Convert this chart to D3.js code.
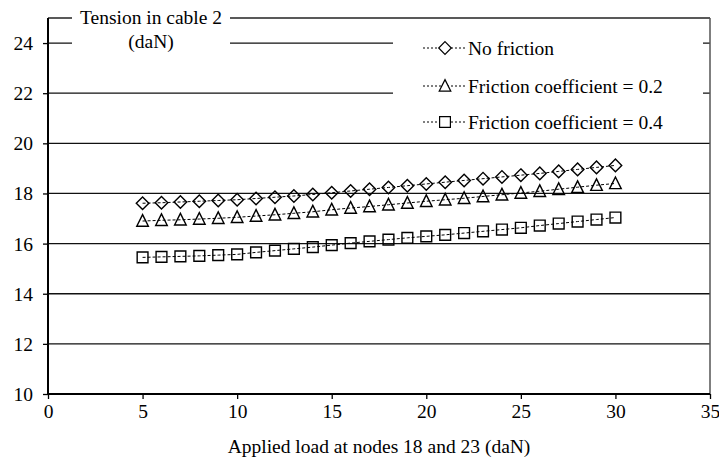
<!DOCTYPE html>
<html>
<head>
<meta charset="utf-8">
<script src="https://cdn.jsdelivr.net/npm/d3@7/dist/d3.min.js"></script>
<style>
  html, body { margin: 0; padding: 0; background: #fff; }
  svg { display: block; }
</style>
</head>
<body>
<svg id="chart" width="719" height="465"></svg>
<script>
// Applied load (daN)
const loads = [5, 6, 7, 8, 9, 10, 11, 12, 13, 14, 15, 16, 17, 18, 19, 20, 21, 22, 23, 24, 25, 26, 27, 28, 29, 30];

// Tension in cable 2 (daN) for each friction case
const noFriction = [17.61, 17.63, 17.66, 17.69, 17.72, 17.75, 17.80, 17.85, 17.90, 17.96, 18.03, 18.10, 18.17,
                    18.24, 18.31, 18.38, 18.45, 18.52, 18.59, 18.66, 18.73, 18.80, 18.88, 18.96, 19.04, 19.12];
const friction02 = [16.90, 16.93, 16.95, 16.98, 17.01, 17.05, 17.10, 17.15, 17.21, 17.27, 17.35, 17.42, 17.48,
                    17.55, 17.62, 17.69, 17.75, 17.81, 17.88, 17.95, 18.02, 18.09, 18.17, 18.25, 18.33, 18.40];
const friction04 = [15.45, 15.47, 15.49, 15.51, 15.54, 15.57, 15.65, 15.72, 15.79, 15.86, 15.94, 16.02, 16.09,
                    16.16, 16.23, 16.29, 16.35, 16.42, 16.49, 16.56, 16.63, 16.72, 16.80, 16.88, 16.96, 17.04];

const seriesNames = ["No friction", "Friction coefficient = 0.2", "Friction coefficient = 0.4"];
const seriesShapes = ["diamond", "triangle", "square"];

const xTicks = [0, 5, 10, 15, 20, 25, 30, 35];
const yTicks = [10, 12, 14, 16, 18, 20, 22, 24];

const yTitle = ["Tension in cable 2", "(daN)"];
const xTitle = "Applied load at nodes 18 and 23 (daN)";

const series = [noFriction, friction02, friction04].map((vals, i) => ({
  name: seriesNames[i],
  shape: seriesShapes[i],
  points: loads.map((x, j) => ({ x, y: vals[j] }))
}));

const svg = d3.select("#chart");
const SERIF = "'Liberation Serif', 'Times New Roman', Times, serif";
const FONT = 19.5;

const x = d3.scaleLinear().domain([0, 35]).range([48, 710]);
const y = d3.scaleLinear().domain([10, 25]).range([394, 18]);

// Marker shapes as custom d3 symbol types (size = half-width in px)
const shapes = {
  diamond: { draw(c, r) { c.moveTo(0, -r); c.lineTo(r, 0); c.lineTo(0, r); c.lineTo(-r, 0); c.closePath(); } },
  triangle: { draw(c, r) { c.moveTo(0, -r * 1.1); c.lineTo(r, r * 0.9); c.lineTo(-r, r * 0.9); c.closePath(); } },
  square: { draw(c, r) { c.rect(-r, -r, 2 * r, 2 * r); } }
};
const shapeSize = { diamond: 6.3, triangle: 5.8, square: 5.4 };
const symbolPath = s => d3.symbol().type(shapes[s]).size(shapeSize[s])();

// Text helper: serif label
function label(g, tx, ty, str, anchor, size) {
  return g.append("text")
    .attr("x", tx).attr("y", ty)
    .attr("text-anchor", anchor)
    .attr("fill", "#000")
    .style("font-family", SERIF)
    .style("font-size", (size || FONT) + "px")
    .text(str);
}

// Horizontal gridlines
svg.append("g")
  .selectAll("line")
  .data(yTicks.filter(t => t > 10))
  .join("line")
  .attr("x1", x(0)).attr("x2", x(35))
  .attr("y1", d => y(d)).attr("y2", d => y(d))
  .attr("stroke", "#111").attr("stroke-width", 1.3);

// Plot frame: top and right borders
svg.append("line").attr("x1", x(0)).attr("x2", x(35)).attr("y1", y(25)).attr("y2", y(25))
  .attr("stroke", "#222").attr("stroke-width", 1.3);
svg.append("line").attr("x1", x(35)).attr("x2", x(35)).attr("y1", y(25)).attr("y2", y(10))
  .attr("stroke", "#555").attr("stroke-width", 1.5);

// Y axis
const yAxis = svg.append("g").attr("transform", `translate(${x(0)},0)`)
  .call(d3.axisLeft(y).tickValues(yTicks).tickSize(5).tickFormat(d3.format("d")));
yAxis.select(".domain").attr("stroke", "#000").attr("stroke-width", 2).attr("d", `M0,${y(25)}V${y(10)}`);
yAxis.selectAll(".tick line").attr("stroke", "#000").attr("stroke-width", 1.3);
yAxis.selectAll(".tick text").each(function () {
  const g = d3.select(this.parentNode);
  const str = d3.select(this).text();
  d3.select(this).remove();
  label(g, -15, 6.5, str, "end");
});

// X axis
const xAxis = svg.append("g").attr("transform", `translate(0,${y(10)})`)
  .call(d3.axisBottom(x).tickValues(xTicks).tickSize(5).tickFormat(d3.format("d")));
xAxis.select(".domain").attr("stroke", "#000").attr("stroke-width", 1.8).attr("d", `M${x(0)},0H${x(35)}`);
xAxis.selectAll(".tick line").attr("stroke", "#000").attr("stroke-width", 1.3);
xAxis.selectAll(".tick text").each(function () {
  const g = d3.select(this.parentNode);
  const str = d3.select(this).text();
  d3.select(this).remove();
  label(g, 0, 24, str, "middle");
});

// Series: dashed connecting lines and open markers
const line = d3.line().x(d => x(d.x)).y(d => y(d.y));
const plot = svg.append("g");
series.forEach(s => {
  plot.append("path")
    .attr("d", line(s.points))
    .attr("fill", "none").attr("stroke", "#000")
    .attr("stroke-width", 1).attr("stroke-dasharray", "3,2");
  plot.append("g").selectAll("path")
    .data(s.points)
    .join("path")
    .attr("transform", d => `translate(${x(d.x)},${y(d.y)})`)
    .attr("d", symbolPath(s.shape))
    .attr("fill", "none").attr("stroke", "#000").attr("stroke-width", 1.4);
});

// Y axis title with white backing over the frame
svg.append("rect").attr("x", 72).attr("y", 2).attr("width", 158).attr("height", 52).attr("fill", "#fff");
const yt = svg.append("g");
label(yt, 151, 24, yTitle[0], "middle");
label(yt, 151, 48, yTitle[1], "middle");

// Legend with white backing
svg.append("rect").attr("x", 393).attr("y", 26).attr("width", 310).attr("height", 110).attr("fill", "#fff");
const legend = svg.append("g").selectAll("g")
  .data(series)
  .join("g")
  .attr("transform", (d, i) => `translate(0,${[48, 86, 122][i]})`);
legend.append("line")
  .attr("x1", 423).attr("x2", 466).attr("y1", 0).attr("y2", 0)
  .attr("stroke", "#000").attr("stroke-width", 1).attr("stroke-dasharray", "2,2");
legend.append("path")
  .attr("transform", "translate(445,0)")
  .attr("d", d => symbolPath(d.shape))
  .attr("fill", "#fff").attr("stroke", "#000").attr("stroke-width", 1.2);
legend.each(function (d) { label(d3.select(this), 468, 6.5, d.name, "start"); });

// X axis title
label(svg, 379, 453, xTitle, "middle");
</script>
</body>
</html>
